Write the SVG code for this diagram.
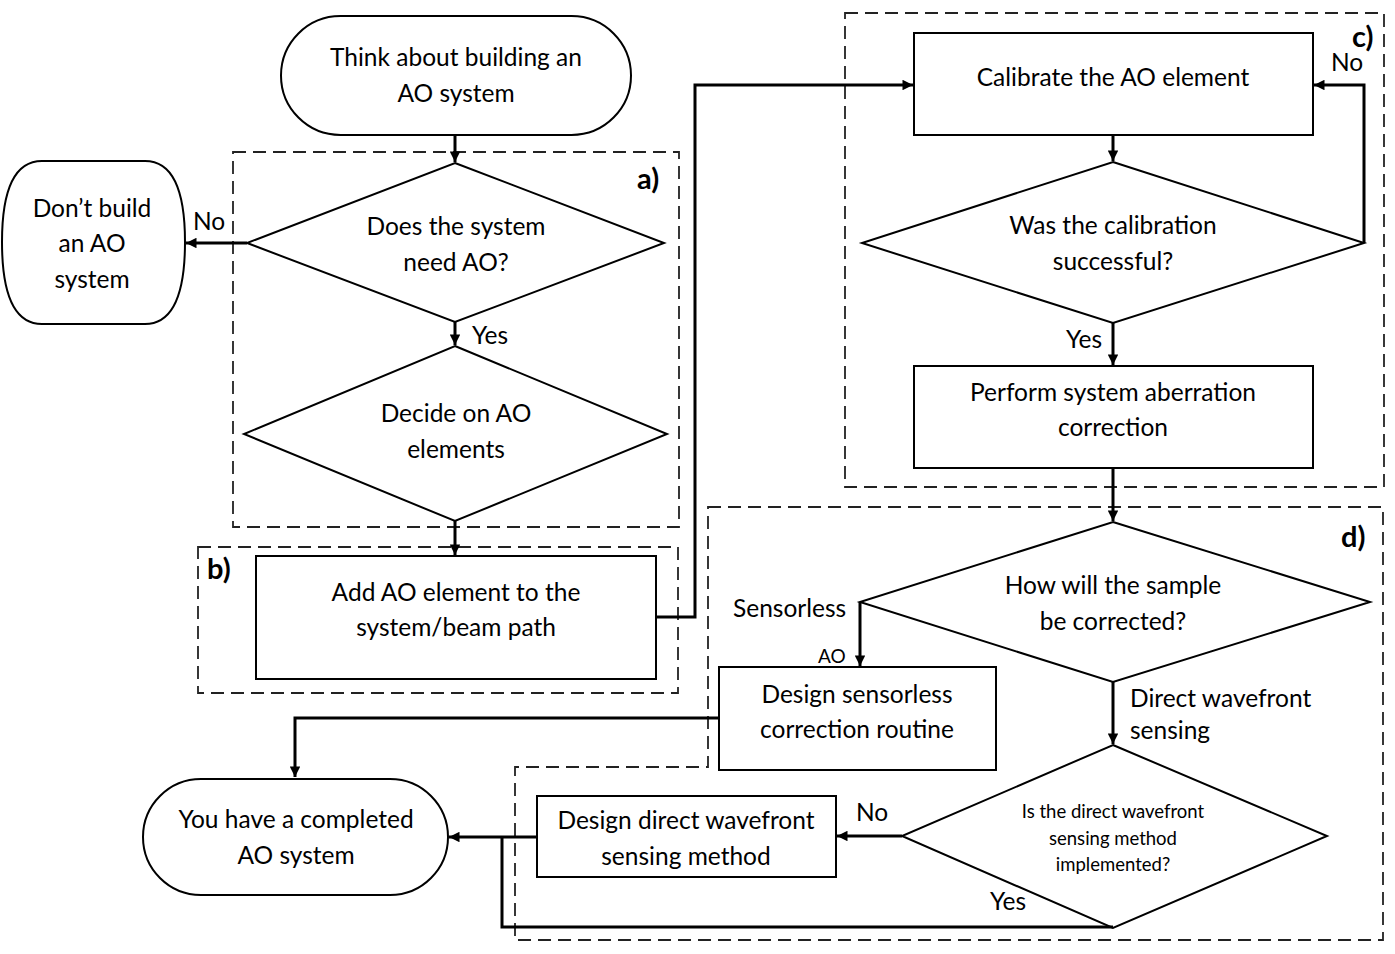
<svg xmlns="http://www.w3.org/2000/svg" width="1395" height="954" viewBox="0 0 1395 954">
<style>
.sh{fill:#fff;stroke:#000;stroke-width:2}
.dash{fill:none;stroke:#222;stroke-width:1.8;stroke-dasharray:13 7}
.t{font-family:Lato,"Liberation Sans",sans-serif;font-size:24.5px;fill:#000;text-anchor:middle}
.s{font-family:Lato,"Liberation Sans",sans-serif;font-size:18.5px;fill:#000;text-anchor:middle}
.l{font-family:Lato,"Liberation Sans",sans-serif;font-size:24.5px;fill:#000}
.ao{font-family:Lato,"Liberation Sans",sans-serif;font-size:19px;fill:#000}
.b{font-family:Lato,"Liberation Sans",sans-serif;font-size:29px;font-weight:bold;fill:#000}
.c{fill:none;stroke:#000;stroke-width:3}
</style>
<defs>
<marker id="ah" viewBox="0 0 10 10" refX="10" refY="5" markerWidth="4" markerHeight="3.5" orient="auto" markerUnits="strokeWidth">
<path d="M0,0 L10,5 L0,10 Z" fill="#000"/>
</marker>
</defs>
<rect width="1395" height="954" fill="#fff"/>
<g id="groups">
<rect id="grp-a" class="dash" x="233" y="152" width="446" height="375"/>
<rect id="grp-b" class="dash" x="198" y="547" width="480" height="146"/>
<rect id="grp-c" class="dash" x="845" y="13" width="539" height="474"/>
<path id="grp-d" class="dash" d="M708,507 H1383 V940 H515 V767 H708 Z"/>
<text class="b" x="637" y="189">a)</text>
<text class="b" x="207" y="579">b)</text>
<text class="b" x="1352" y="47">c)</text>
<text class="b" x="1341" y="547">d)</text>
</g>
<g id="n-think"><rect class="sh" x="281" y="16" width="350" height="119" rx="59.5"/><text class="t" x="456" y="66">Think about building an</text><text class="t" x="456" y="102">AO system</text></g>
<g id="n-dont"><path class="sh" d="M42,161 H145 Q185,161 185,242 Q185,324 145,324 H42 Q2,324 2,242 Q2,161 42,161 Z"/><text class="t" x="92" y="217">Don’t build</text><text class="t" x="92" y="252">an AO</text><text class="t" x="92" y="288">system</text></g>
<g id="n-need"><path class="sh" d="M455,163 L664,243 L455,322 L247,243 Z"/><text class="t" x="456" y="235">Does the system</text><text class="t" x="456" y="271">need AO?</text></g>
<g id="n-decide"><path class="sh" d="M455,346 L667,434 L455,521 L244,434 Z"/><text class="t" x="456" y="422">Decide on AO</text><text class="t" x="456" y="458">elements</text></g>
<g id="n-add"><rect class="sh" x="256" y="556" width="400" height="123"/><text class="t" x="456" y="601">Add AO element to the</text><text class="t" x="456" y="636">system/beam path</text></g>
<g id="n-calib"><rect class="sh" x="914" y="33" width="399" height="102"/><text class="t" x="1113" y="86">Calibrate the AO element</text></g>
<g id="n-success"><path class="sh" d="M1113,162 L1364,243 L1113,323 L862,243 Z"/><text class="t" x="1113" y="234">Was the calibration</text><text class="t" x="1113" y="270">successful?</text></g>
<g id="n-perform"><rect class="sh" x="914" y="366" width="399" height="102"/><text class="t" x="1113" y="401">Perform system aberration</text><text class="t" x="1113" y="436">correction</text></g>
<g id="n-how"><path class="sh" d="M1113,522 L1370,602 L1113,682 L860,602 Z"/><text class="t" x="1113" y="594">How will the sample</text><text class="t" x="1113" y="630">be corrected?</text></g>
<g id="n-sensorless"><rect class="sh" x="719" y="667" width="277" height="103"/><text class="t" x="857" y="703">Design sensorless</text><text class="t" x="857" y="738">correction routine</text></g>
<g id="n-impl"><path class="sh" d="M1113,745 L1327,836 L1113,928 L902,836 Z"/><text class="s" x="1113" y="818">Is the direct wavefront</text><text class="s" x="1113" y="845">sensing method</text><text class="s" x="1113" y="871">implemented?</text></g>
<g id="n-designdirect"><rect class="sh" x="537" y="796" width="299" height="81"/><text class="t" x="686" y="829">Design direct wavefront</text><text class="t" x="686" y="865">sensing method</text></g>
<g id="n-done"><rect class="sh" x="143" y="779" width="305" height="116" rx="58"/><text class="t" x="296" y="828">You have a completed</text><text class="t" x="296" y="864">AO system</text></g>
<g id="connectors">
<path class="c" d="M455,135 V162" marker-end="url(#ah)"/>
<path class="c" d="M247,243 H186" marker-end="url(#ah)"/>
<path class="c" d="M455,322 V345" marker-end="url(#ah)"/>
<path class="c" d="M455,521 V555" marker-end="url(#ah)"/>
<path class="c" d="M656,617 H695 V85 H913" marker-end="url(#ah)"/>
<path class="c" d="M1113,135 V161" marker-end="url(#ah)"/>
<path class="c" d="M1364,243 V85 H1314" marker-end="url(#ah)"/>
<path class="c" d="M1113,323 V365" marker-end="url(#ah)"/>
<path class="c" d="M1113,468 V521" marker-end="url(#ah)"/>
<path class="c" d="M860,602 V666" marker-end="url(#ah)"/>
<path class="c" d="M719,718 H295 V777" marker-end="url(#ah)"/>
<path class="c" d="M1113,682 V744" marker-end="url(#ah)"/>
<path class="c" d="M902,836 H837" marker-end="url(#ah)"/>
<path class="c" d="M537,837 H449" marker-end="url(#ah)"/>
<path class="c" d="M1113,927 H502 V837"/>
<text class="l" x="193" y="230">No</text>
<text class="l" x="472" y="344">Yes</text>
<text class="l" x="1331" y="71">No</text>
<text class="l" x="1066" y="348">Yes</text>
<text class="l" x="733" y="617">Sensorless</text>
<text class="ao" x="818" y="663">AO</text>
<text class="l" x="1130" y="707">Direct wavefront</text>
<text class="l" x="1130" y="739">sensing</text>
<text class="l" x="856" y="821">No</text>
<text class="l" x="990" y="910">Yes</text>
</g>
</svg>
